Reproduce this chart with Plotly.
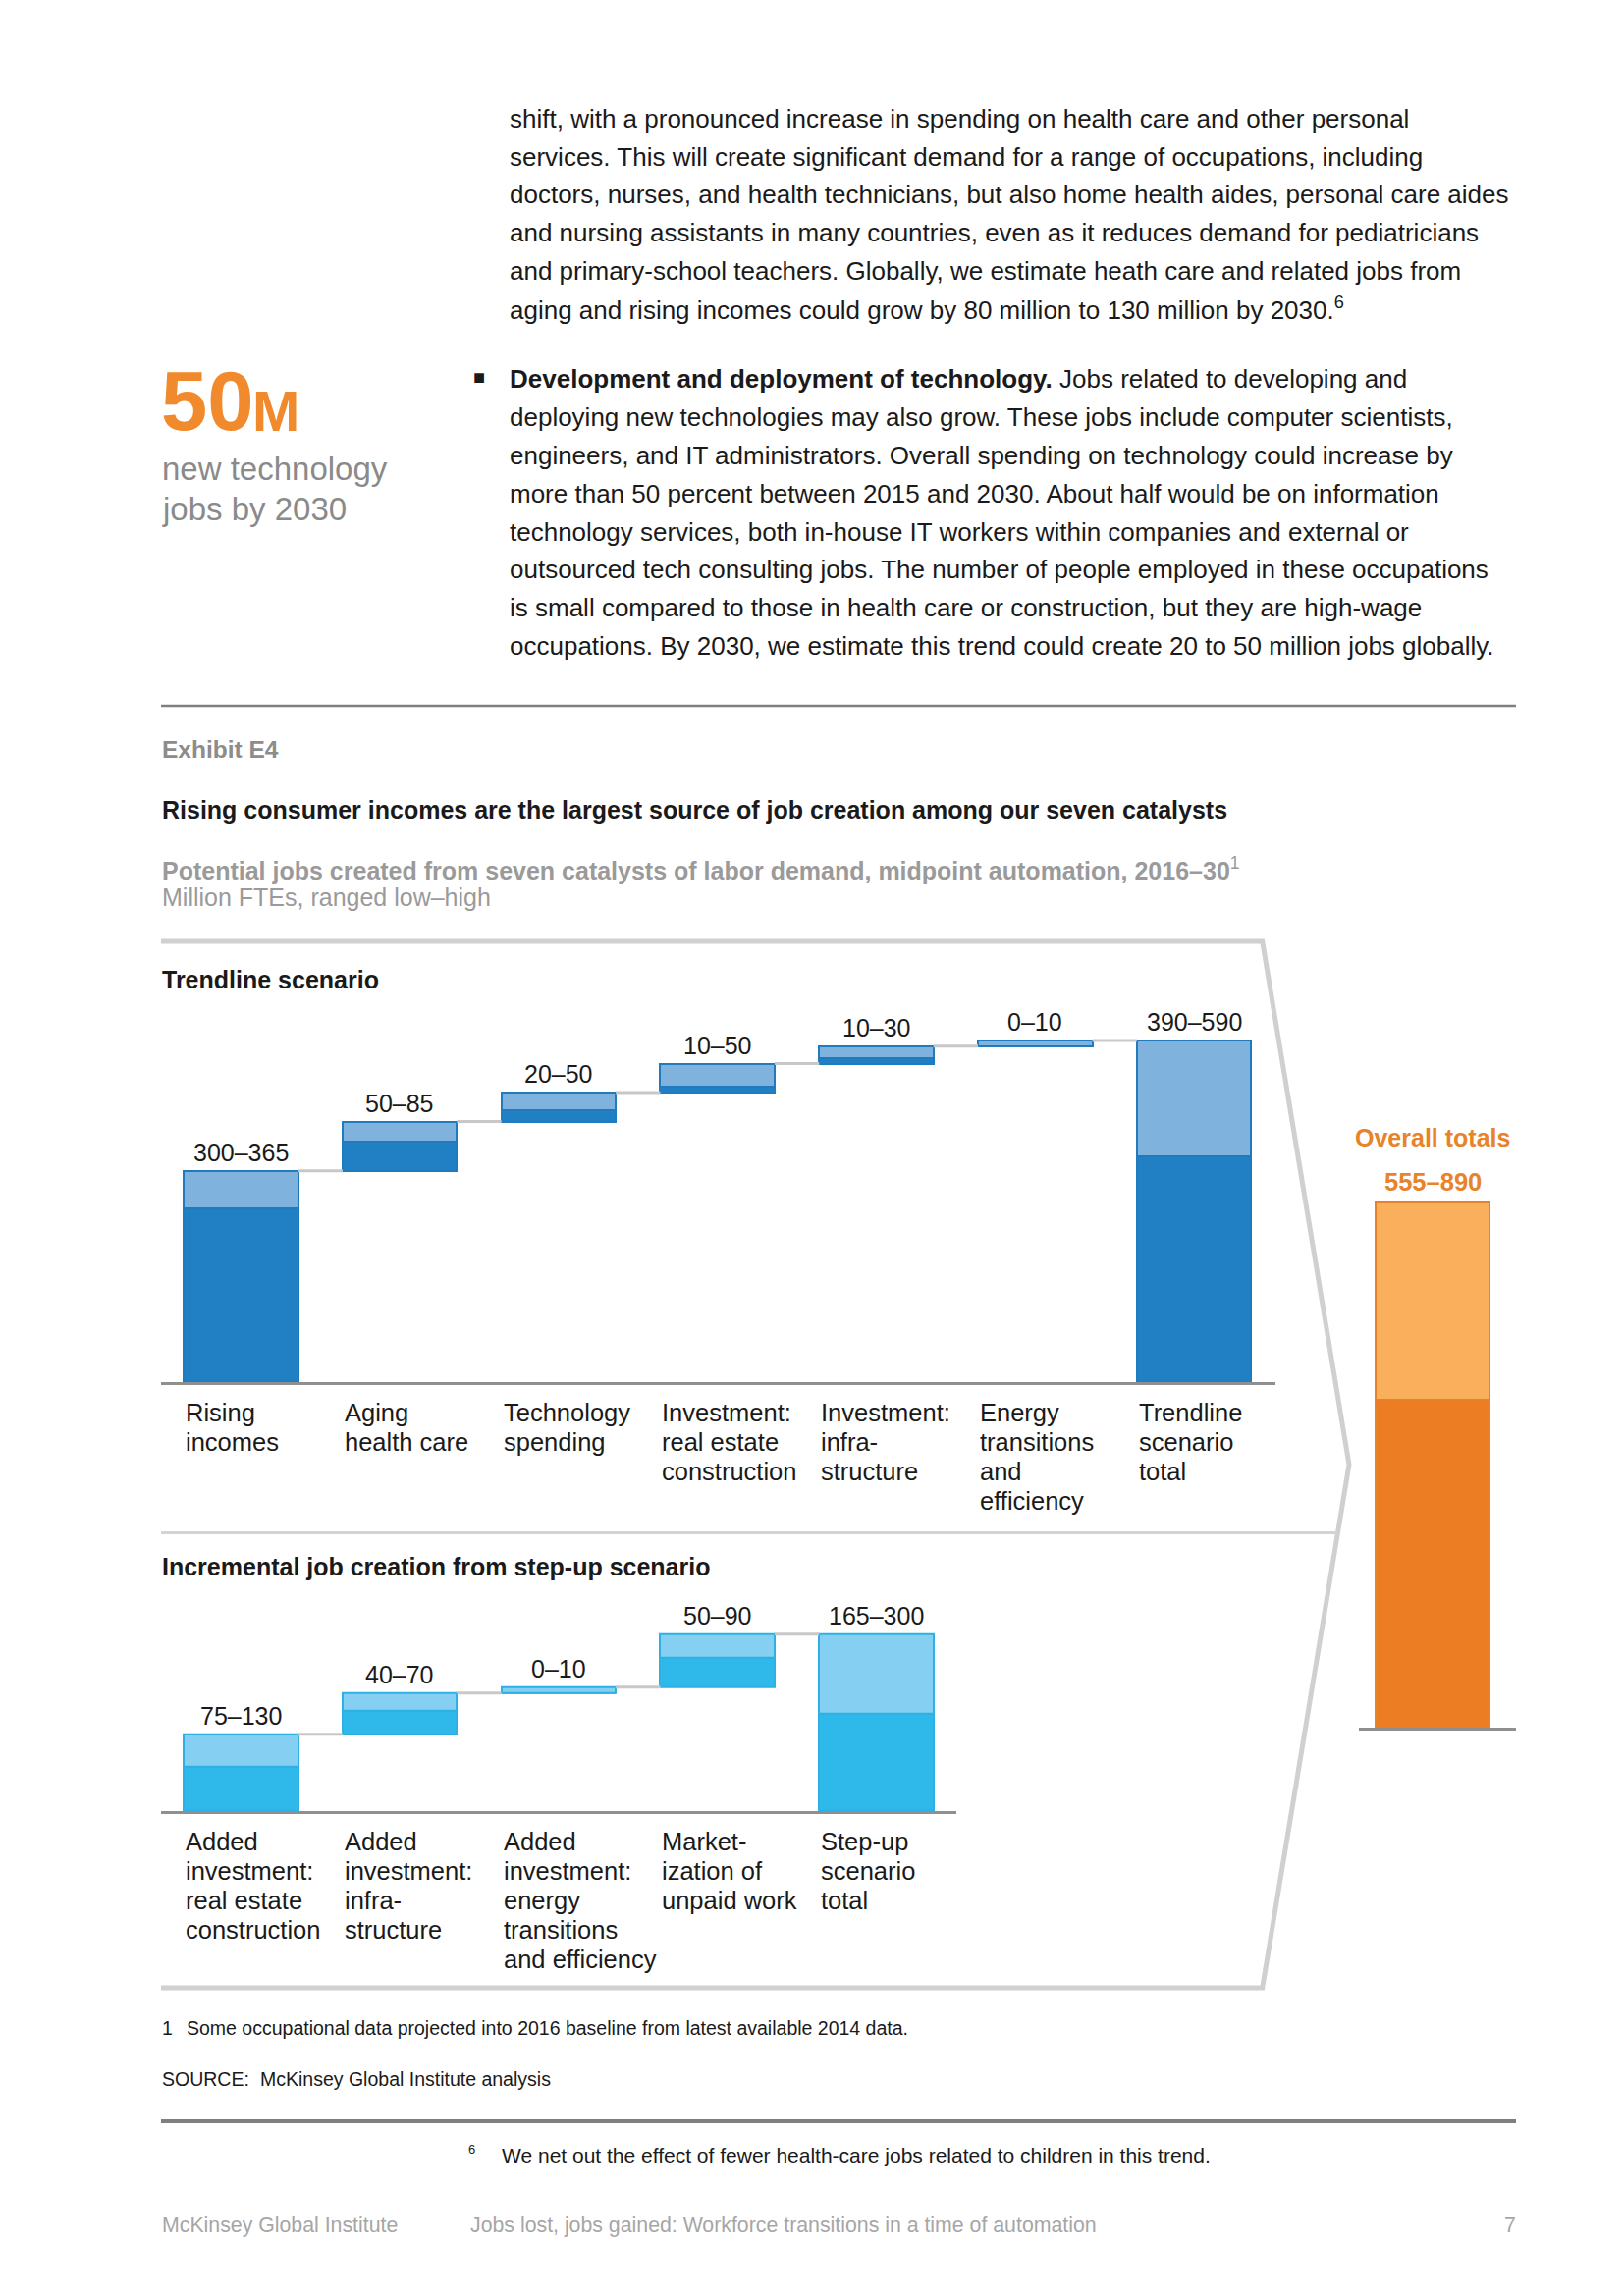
import plotly.graph_objects as go

W, H = 1654, 2339
OFF = 8  # page body margin in the browser
FONT = "Liberation Sans, Arial, sans-serif"

# ---------------- data ----------------
trend_labels = [["Rising", "incomes"], ["Aging", "health care"], ["Technology", "spending"],
                ["Investment:", "real estate", "construction"], ["Investment:", "infra-", "structure"],
                ["Energy", "transitions", "and", "efficiency"], ["Trendline", "scenario", "total"]]
trend_low = [300, 50, 20, 10, 10, 0, 390]
trend_high = [365, 85, 50, 50, 30, 10, 590]
trend_total = [False, False, False, False, False, False, True]

step_labels = [["Added", "investment:", "real estate", "construction"],
               ["Added", "investment:", "infra-", "structure"],
               ["Added", "investment:", "energy", "transitions", "and efficiency"],
               ["Market-", "ization of", "unpaid work"],
               ["Step-up", "scenario", "total"]]
step_low = [75, 40, 0, 50, 165]
step_high = [130, 70, 10, 90, 300]
step_total = [False, False, False, False, True]

overall_low = [555]
overall_high = [890]

para1 = [
    "shift, with a pronounced increase in spending on health care and other personal",
    "services. This will create significant demand for a range of occupations, including",
    "doctors, nurses, and health technicians, but also home health aides, personal care aides",
    "and nursing assistants in many countries, even as it reduces demand for pediatricians",
    "and primary-school teachers. Globally, we estimate heath care and related jobs from",
    "aging and rising incomes could grow by 80 million to 130 million by 2030.<sup>6</sup>",
]
para2 = [
    "<b>Development and deployment of technology.</b> Jobs related to developing and",
    "deploying new technologies may also grow. These jobs include computer scientists,",
    "engineers, and IT administrators. Overall spending on technology could increase by",
    "more than 50 percent between 2015 and 2030. About half would be on information",
    "technology services, both in-house IT workers within companies and external or",
    "outsourced tech consulting jobs. The number of people employed in these occupations",
    "is small compared to those in health care or construction, but they are high-wage",
    "occupations. By 2030, we estimate this trend could create 20 to 50 million jobs globally.",
]

# ---------------- styles ----------------
BLUE_D, BLUE_L, BLUE_B = "#2180C3", "#7FB2DD", "#1F7BBE"
CYAN_D, CYAN_L, CYAN_B = "#2FB8EA", "#85D0F2", "#2DB1E4"
OR_D, OR_L, OR_B = "#EC7D22", "#F9AF5B", "#E8822A"
CONN = "#C8C8C8"
BAR_W = 0.72
TXT = "#1A1A1A"
LBL = 25.5


def fx(x):
    return (x - OFF) / W


def fy(y):
    return 1 - (y - OFF) / H


fig = go.Figure()


def waterfall(low, high, total, xa, ya, dark, light, border):
    n = len(low)
    pos = list(range(n))
    base, run = [], 0
    for i in range(n):
        if total[i]:
            base.append(0)
        else:
            base.append(run)
            run += high[i]
    fig.add_trace(go.Bar(x=pos, y=low, base=base, width=BAR_W, xaxis=xa, yaxis=ya,
                         marker=dict(color=dark, line=dict(color=border, width=2)),
                         hoverinfo="skip"))
    fig.add_trace(go.Bar(x=pos, y=[h - l for h, l in zip(high, low)],
                         base=[b + l for b, l in zip(base, low)], width=BAR_W,
                         xaxis=xa, yaxis=ya,
                         marker=dict(color=light, line=dict(color=border, width=2)),
                         hoverinfo="skip"))
    cx, cy = [], []
    for i in range(n - 1):
        top = base[i] + high[i]
        cx += [i + BAR_W / 2, i + 1 - BAR_W / 2, None]
        cy += [top, top, None]
    if cx:
        fig.add_trace(go.Scatter(x=cx, y=cy, mode="lines", xaxis=xa, yaxis=ya,
                                 line=dict(color=CONN, width=3), hoverinfo="skip"))
    tops = [b + h for b, h in zip(base, high)]
    return pos, tops


def value_labels(pos, tops, low, high, xa, ya, shift=19, color=TXT, size=25, bold=False):
    for p, t, l, h in zip(pos, tops, low, high):
        s = f"{l}–{h}"
        if bold:
            s = f"<b>{s}</b>"
        fig.add_annotation(x=p, y=t, xref=xa, yref=ya, text=s, showarrow=False,
                           xanchor="center", yanchor="middle", yshift=shift,
                           font=dict(size=size, color=color, family=FONT))


def cat_labels(pos, labels, xa, y0, step=29.8, size=LBL):
    for p, lines in zip(pos, labels):
        for k, line in enumerate(lines):
            fig.add_annotation(x=p - BAR_W / 2, y=fy(y0 + k * step), xref=xa, yref="paper",
                               text=line, showarrow=False, xanchor="left", yanchor="middle",
                               font=dict(size=size, color=TXT, family=FONT))


def txt(x, y, s, size, color=TXT, anchor="left", family=FONT):
    fig.add_annotation(x=fx(x), y=fy(y), xref="paper", yref="paper", text=s,
                       showarrow=False, xanchor=anchor, yanchor="middle",
                       font=dict(size=size, color=color, family=family))


# ---------------- charts ----------------
tp, tt = waterfall(trend_low, trend_high, trend_total, "x", "y", BLUE_D, BLUE_L, BLUE_B)
value_labels(tp, tt, trend_low, trend_high, "x", "y")
cat_labels(tp, trend_labels, "x", 1439.3)

sp, st = waterfall(step_low, step_high, step_total, "x2", "y2", CYAN_D, CYAN_L, CYAN_B)
value_labels(sp, st, step_low, step_high, "x2", "y2")
cat_labels(sp, step_labels, "x2", 1876.3)

op, ot = waterfall(overall_low, overall_high, [True], "x3", "y3", OR_D, OR_L, OR_B)
value_labels(op, ot, overall_low, overall_high, "x3", "y3", shift=21.5, color="#E8832A",
             size=25.5, bold=True)
fig.add_annotation(x=op[0], y=ot[0], xref="x3", yref="y3", text="<b>Overall totals</b>",
                   showarrow=False, xanchor="center", yanchor="middle", yshift=66.5,
                   font=dict(size=25, color="#E8832A", family=FONT))

# ---------------- axes ----------------
C0, SP = 245.3, 161.8
axis_common = dict(showgrid=False, zeroline=False, showticklabels=False, ticks="",
                   fixedrange=True)
xline = dict(showline=True, linecolor="#8F8F8F", linewidth=2.5)

fig.update_layout(
    xaxis=dict(domain=[fx(164), fx(1299)], range=[(164 - C0) / SP, (1299 - C0) / SP],
               anchor="y", **axis_common, **xline),
    yaxis=dict(domain=[fy(1408), fy(1408 - 700 * 0.59)], range=[0, 700], anchor="x",
               showline=False, **axis_common),
    xaxis2=dict(domain=[fx(164), fx(974)], range=[(164 - C0) / SP, (974 - C0) / SP],
                anchor="y2", **axis_common, **xline),
    yaxis2=dict(domain=[fy(1845), fy(1845 - 350 * 0.601)], range=[0, 350], anchor="x2",
                showline=False, **axis_common),
    xaxis3=dict(domain=[fx(1384), fx(1544)], range=[(1384 - 1459.2) / SP, (1544 - 1459.2) / SP],
                anchor="y3", **axis_common, **xline),
    yaxis3=dict(domain=[fy(1760), fy(1760 - 1000 * 0.601)], range=[0, 1000], anchor="x3",
                showline=False, **axis_common),
)

# ---------------- frame / rules ----------------
frame = (f"M {fx(164)},{fy(959)} L {fx(1285.7)},{fy(959)} L {fx(1374)},{fy(1492)} "
         f"L {fx(1285.7)},{fy(2025)} L {fx(164)},{fy(2025)}")
fig.add_shape(type="path", path=frame, xref="paper", yref="paper",
              line=dict(color="#D0D0D0", width=5), layer="below")
fig.add_shape(type="line", x0=fx(164), x1=fx(1361), y0=fy(1561.6), y1=fy(1561.6),
              xref="paper", yref="paper", line=dict(color="#D3D3D3", width=3))
fig.add_shape(type="line", x0=fx(164), x1=fx(1544), y0=fy(719), y1=fy(719),
              xref="paper", yref="paper", line=dict(color="#7F7F7F", width=2.5))
fig.add_shape(type="line", x0=fx(164), x1=fx(1544), y0=fy(2161), y1=fy(2161),
              xref="paper", yref="paper", line=dict(color="#7F7F7F", width=4))

# ---------------- page text ----------------
for k, line in enumerate(para1):
    txt(517, 120.8 + k * 38.8, line, 26)
for k, line in enumerate(para2):
    txt(517, 386.3 + k * 38.8, line, 26)
txt(480, 384, "■", 20)

txt(162, 408.5, "<b>50</b>", 85, "#F08A2C")
txt(255, 418, "<b>M</b>", 58, "#F08A2C")
txt(163, 477, "new technology", 33, "#8A8A8A")
txt(163, 519, "jobs by 2030", 33, "#8A8A8A")

txt(163, 763.6, "<b>Exhibit E4</b>", 24.5, "#8C8C8C")
txt(163, 824.8, "<b>Rising consumer incomes are the largest source of job creation among our seven catalysts</b>", 25)
txt(163, 884.5, "<b>Potential jobs created from seven catalysts of labor demand, midpoint automation, 2016–30</b><sup>1</sup>", 25, "#9A9A9A")
txt(163, 914.3, "Million FTEs, ranged low–high", 25, "#9A9A9A")

txt(163, 997.8, "<b>Trendline scenario</b>", 25)
txt(163, 1595.9, "<b>Incremental job creation from step-up scenario</b>", 25)

txt(163, 2065.7, "1", 19.5)
txt(188, 2065.7, "Some occupational data projected into 2016 baseline from latest available 2014 data.", 19.5)
txt(163, 2117.9, "SOURCE:", 19.5)
txt(263, 2117.9, "McKinsey Global Institute analysis", 19.5)

txt(475, 2189, "6", 13)
txt(509, 2195.5, "We net out the effect of fewer health-care jobs related to children in this trend.", 21)

txt(163, 2267, "McKinsey Global Institute", 21.3, "#A6A6A6")
txt(477, 2267, "Jobs lost, jobs gained: Workforce transitions in a time of automation", 21.3, "#A6A6A6")
txt(1546, 2267, "7", 21.3, "#A6A6A6", anchor="right")

fig.update_layout(width=W, height=H, margin=dict(l=0, r=0, t=0, b=0),
                  paper_bgcolor="white", plot_bgcolor="rgba(0,0,0,0)",
                  barmode="overlay", showlegend=False, bargap=0)

fig.write_html("out.html")
